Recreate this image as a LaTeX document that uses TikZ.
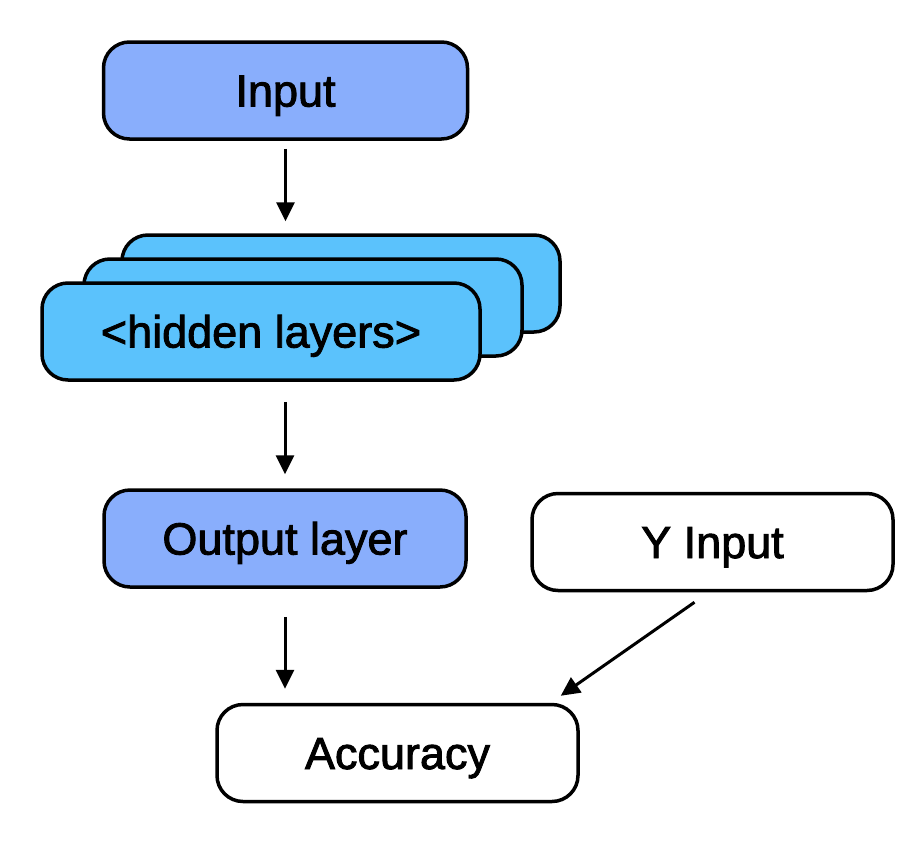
\documentclass[tikz,border=0pt]{standalone}
\usepackage{fontspec}
\setmainfont{Liberation Sans}
\newfontfamily\medfont[FakeBold=2]{Liberation Sans}
\usetikzlibrary{arrows.meta}
\definecolor{boxblue}{HTML}{89AEFC}
\definecolor{hidblue}{HTML}{5BC2FC}
\tikzset{
  box/.style={draw=black, line width=3.5pt, rounded corners=26pt, minimum height=97pt, inner sep=0pt,
    text height=32pt, text depth=0pt, font=\medfont\fontsize{45}{54}\selectfont},
  arr/.style={line width=3pt, -{Triangle[length=19pt,width=18pt]}}
}
\begin{document}
\begin{tikzpicture}[x=1pt,y=-1pt]
\useasboundingbox (0,0) rectangle (924,852);
\node[box, fill=boxblue, minimum width=364pt] (input) at (285.5,90.5) {Input};
\node[box, fill=hidblue, minimum width=438pt] (back) at (341,283.5) {};
\node[box, fill=hidblue, minimum width=438pt] (mid) at (303,307.5) {};
\node[box, fill=hidblue, minimum width=438pt] (front) at (261,331.5) {<hidden layers>};
\node[box, fill=boxblue, minimum width=362pt] (output) at (285,538.5) {Output layer};
\node[box, fill=white, minimum width=361pt] (yin) at (712.5,542) {Y Input};
\node[box, fill=white, minimum width=361pt] (acc) at (397.5,753) {Accuracy};
\draw[arr, shorten <=8pt, shorten >=12pt] (input.south) -- (input.south |- back.north);
\draw[arr, shorten <=20pt, shorten >=14pt] (output.north |- front.south) -- (output.north);
\draw[arr, shorten <=28pt, shorten >=14pt] (output.south) -- (output.south |- acc.north);
\draw[arr] ([shift={(-18,10)}]yin.south) -- ([shift={(-19,-7)}]acc.north east);
\end{tikzpicture}
\end{document}
